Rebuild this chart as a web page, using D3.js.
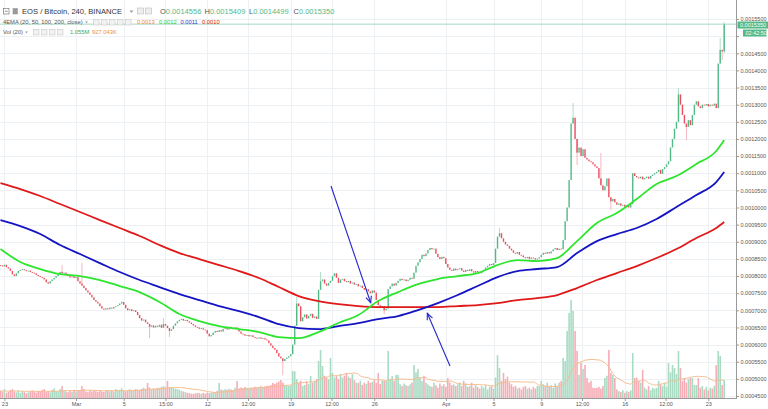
<!DOCTYPE html>
<html><head><meta charset="utf-8">
<script src="https://cdn.jsdelivr.net/npm/d3@7"></script>
<style>html,body{margin:0;padding:0;background:#fff;overflow:hidden}text{font-family:"Liberation Sans",Arial,sans-serif}</style>
</head><body><svg id="c" width="768" height="409"></svg>
<script>
// ---------- DATA (prices in µBTC = 1e-6 BTC, volume in K) ----------
const candleStart = "2018-02-22T16:00:00Z";
const candleHours = 4;
const firstOpen = 832;
const closes = [
831,828,833,826,822,815,805,800,808,815,
818,820,817,814,816,812,810,808,803,800,
797,795,790,782,778,785,790,795,800,806,
812,808,810,805,800,796,799,794,797,785,
778,772,765,758,752,745,738,730,725,720,
712,705,702,706,703,708,705,710,712,715,
720,724,716,706,700,703,698,700,695,686,
677,670,673,665,660,652,656,650,655,652,
658,649,660,655,648,640,645,655,662,668,
672,675,670,672,668,664,660,656,652,650,
646,648,644,642,632,624,628,635,640,637,
642,638,646,650,644,652,648,645,650,646,
638,632,630,626,628,624,627,622,620,618,
621,617,619,615,612,604,597,590,585,575,
565,560,552,558,562,566,572,600,655,720,
712,668,680,688,676,684,690,678,682,675,
760,785,790,778,772,780,786,800,808,795,
780,790,792,785,782,786,778,781,775,777,
770,772,765,760,762,755,750,758,752,730,
715,708,712,700,705,762,770,778,772,780,
786,792,788,790,785,789,795,792,810,830,
840,850,862,858,866,876,882,878,880,865,
855,850,856,852,835,825,818,815,822,817,
820,823,816,812,818,815,820,814,810,815,
812,808,815,818,825,830,835,832,838,880,
915,925,910,900,892,888,880,875,868,865,
870,862,860,855,852,856,850,854,852,848,
851,855,862,868,865,870,866,872,878,882,
876,880,878,905,960,1000,1080,1245,1262,1200,
1160,1175,1150,1170,1145,1140,1135,1132,1126,1120,
1115,1085,1065,1050,1062,1085,1030,1018,1025,1015,
1008,1012,1005,1008,1002,1006,1000,1010,1100,1092,
1088,1085,1090,1082,1086,1090,1084,1092,1096,1100,
1104,1110,1098,1112,1118,1126,1135,1175,1200,1230,
1250,1330,1300,1270,1245,1235,1255,1240,1270,1300,
1310,1295,1290,1300,1298,1302,1295,1300,1297,1303,
1290,1420,1460,1455.6,1535
];
// notable wicks: [candle index, high, low]
const wicks = [
[31,832,null],[41,838,null],[61,727,null],[75,null,619],[82,678,null],[85,null,622],
[142,null,510],[149,739,null],[161,812,null],[193,null,689],[251,940,null],
[288,1305,null],[290,null,1124],[302,1159,null],[307,null,993],[341,1349,null],
[345,null,1197],[362,1495,null],[363,null,1430],[364,1540.9,1449.9]
];
const volumesK = [
420,380,510,300,350,460,520,390,330,450,
300,410,360,280,330,390,450,370,310,420,
380,460,520,350,400,330,470,560,410,380,
520,700,450,380,340,410,360,480,390,440,
430,700,520,380,340,420,380,450,400,360,
410,380,350,470,420,390,440,380,520,460,
480,560,420,390,450,510,470,430,520,480,
460,530,600,540,880,620,480,560,520,600,
580,640,700,620,1000,640,620,580,540,520,
480,420,380,350,300,280,260,240,270,300,
280,250,300,260,320,280,300,350,330,420,
880,500,460,520,480,540,500,460,600,990,
560,620,580,640,600,560,620,580,660,600,
640,700,620,680,720,700,760,880,820,900,
960,1050,900,760,700,700,720,1580,1560,1100,
880,1000,700,760,980,820,1290,900,1000,1100,
2160,2810,1870,1300,1200,1100,2340,1460,1200,1300,
1100,1400,1200,1300,1460,1250,1170,1400,1050,900,
880,1000,760,900,820,1000,880,940,1050,880,
1460,820,1000,1000,1000,2750,1100,1280,1000,1350,
1350,800,700,850,750,700,800,900,1930,1500,
1700,1200,1000,1300,900,800,700,650,900,750,
600,850,700,800,650,1170,900,750,800,700,
800,900,700,1000,850,650,700,900,600,750,
650,550,700,600,750,500,650,700,550,1200,
2500,1750,1000,1460,1100,1250,900,800,650,700,
550,600,500,650,700,550,600,500,650,550,
700,700,1000,800,700,900,650,750,600,850,
700,900,1000,2340,2160,3920,4970,5730,5090,3920,
2750,1350,2050,1700,1930,1170,900,1000,600,580,
600,650,550,700,1170,1300,2810,1460,1350,1170,
500,400,350,450,300,400,350,450,2630,1170,
1200,1000,900,1640,600,500,700,450,600,550,
600,1000,800,700,900,650,2050,1500,1930,1750,
1400,2750,1750,1000,1170,900,1100,1170,1170,760,
760,1170,600,700,500,650,450,600,550,700,
1930,2750,2460,760,1055
];
// EMA lines at these candle indices
const emaIdx = [0,10,20,30,40,50,60,70,80,90,100,110,120,130,140,150,160,170,180,190,200,210,220,230,240,250,260,270,280,290,300,310,320,330,340,350,360,364];
const ema50 = [878.8,840.9,820.5,805.9,800.0,788.4,770.9,753.3,724.2,689.1,668.7,654.1,645.4,636.6,622.0,619.1,636.6,662.9,686.2,727.1,753.3,776.7,791.3,800.0,808.8,832.1,846.7,843.8,852.6,902.0,954.7,983.9,1024.7,1068.5,1091.8,1126.9,1164.8,1196.9];
const ema100 = [963.4,945.9,922.6,890.5,864.2,837.9,811.7,788.4,767.9,747.5,730.0,712.5,697.9,680.4,659.6,648.3,645.4,654.1,662.9,674.6,683.3,700.8,721.2,744.6,770.9,797.1,814.6,820.5,826.3,867.1,902.0,922.6,940.1,966.4,1001.4,1036.4,1074.3,1103.5];
const ema200 = [1071.4,1053.9,1033.5,1010.1,986.8,963.4,940.1,916.8,890.5,867.1,849.6,832.1,814.6,794.2,767.9,741.7,727.1,718.3,712.5,709.6,709.6,709.6,709.6,712.5,715.4,721.2,730.0,735.8,744.6,765.0,788.4,808.8,829.2,852.6,878.8,910.9,940.1,957.6];
const priceTicks = [450,500,550,600,650,700,750,800,850,900,950,1000,1050,1100,1150,1200,1250,1300,1350,1400,1450,1500,1550];
const xTickDates = ["2018-02-23T00:00Z","2018-03-01T00:00Z","2018-03-05T00:00Z","2018-03-08T12:00Z","2018-03-12T00:00Z","2018-03-15T10:00Z","2018-03-19T00:00Z","2018-03-22T10:00Z","2018-03-26T00:00Z","2018-04-01T00:00Z","2018-04-05T00:00Z","2018-04-09T00:00Z","2018-04-12T10:00Z","2018-04-16T00:00Z","2018-04-19T10:00Z","2018-04-23T00:00Z"];
const xTickLabels = ["23","Mar","5","15:00","12","12:00","19","12:00","26","Apr","5","9","12:00","16","12:00","23"];
const emaLegend = ["0.0013","0.0012","0.0011","0.0010"];
const volLegend = ["1.055M","927.043K"];
const countdown = "02:42:50";
const arrows = [
  {from:["2018-03-22T09:00Z",1062.6], to:["2018-03-25T16:50Z",722.1]},
  {from:["2018-04-01T08:24Z",537.4], to:["2018-03-30T10:48Z",691.2]}
];

// ---------- CHART ----------
const plotR = 736, plotB = 398;
const svg = d3.select("#c");
const UP = "#53b987", DN = "#eb4d5c";
const t0 = Date.parse(candleStart);
const tOf = i => new Date(t0 + i * candleHours * 3600e3);
const fmtP = v => (v / 1e6).toFixed(7);

const x = d3.scaleUtc().domain([new Date("2018-02-22T15:06:00Z"), new Date("2018-04-25T07:45:00Z")]).range([0, plotR]);
const y = d3.scaleLinear().domain([450, 1550]).range([396, 19]);
const yv = d3.scaleLinear().domain([0, 10000]).range([plotB, 227]);

svg.append("defs").append("clipPath").attr("id","plot").append("rect").attr("x",0).attr("y",0).attr("width",plotR).attr("height",plotB);

// grid
const grid = svg.append("g").attr("shape-rendering","crispEdges");
grid.selectAll("line.h").data(priceTicks).join("line")
  .attr("x1",0).attr("x2",plotR).attr("y1",d=>Math.round(y(d))+0.5).attr("y2",d=>Math.round(y(d))+0.5)
  .attr("stroke","#eef1f4");
grid.selectAll("line.v").data(xTickDates).join("line")
  .attr("y1",0).attr("y2",plotB).attr("x1",d=>Math.round(x(new Date(d)))+0.5).attr("x2",d=>Math.round(x(new Date(d)))+0.5)
  .attr("stroke","#eef1f4");

const plot = svg.append("g").attr("clip-path","url(#plot)");

// candle data
const wickMap = new Map(wicks.map(w => [w[0], w]));
const candles = closes.map((c, i) => {
  const o = i === 0 ? firstOpen : closes[i-1];
  const w = wickMap.get(i);
  let hi = Math.max(o, c), lo = Math.min(o, c);
  if (w) { if (w[1] != null) hi = w[1]; if (w[2] != null) lo = w[2]; }
  return {i, t: tOf(i), o, c, hi, lo, v: volumesK[i], up: c >= o};
});

// volume
plot.append("g").selectAll("rect").data(candles).join("rect")
  .attr("x", d => x(d.t) - 0.8).attr("width", 1.6)
  .attr("y", d => yv(d.v)).attr("height", d => plotB - yv(d.v))
  .attr("fill", d => d.up ? "#a9dbc3" : "#f6adb6");

// volume MA 20
const volMA = candles.map((d, i) => {
  const s = volumesK.slice(Math.max(0, i - 19), i + 1);
  return {t: d.t, v: d3.mean(s)};
});
plot.append("path").datum(volMA)
  .attr("d", d3.line().x(d => x(d.t)).y(d => yv(d.v)).curve(d3.curveMonotoneX))
  .attr("fill","none").attr("stroke","#f5bd8e").attr("stroke-width",1);

// candles
const cg = plot.append("g");
cg.selectAll("line").data(candles.filter(d => d.hi > Math.max(d.o,d.c) || d.lo < Math.min(d.o,d.c))).join("line")
  .attr("x1", d => x(d.t)).attr("x2", d => x(d.t))
  .attr("y1", d => y(d.hi)).attr("y2", d => y(d.lo))
  .attr("stroke", d => d.up ? "#9fd6bb" : "#f2a3ad").attr("stroke-width", 0.8);
cg.selectAll("rect").data(candles).join("rect")
  .attr("x", d => x(d.t) - 0.7).attr("width", 1.4)
  .attr("y", d => y(Math.max(d.o, d.c)))
  .attr("height", d => Math.max(0.9, y(Math.min(d.o, d.c)) - y(Math.max(d.o, d.c))))
  .attr("fill", d => d.up ? UP : DN);

// EMA lines
const emaLine = vals => emaIdx.map((k, j) => ({t: tOf(k), v: vals[j]}));
const lineGen = d3.line().x(d => x(d.t)).y(d => y(d.v)).curve(d3.curveMonotoneX);
[[ema200,"#e01818"],[ema100,"#1414c4"],[ema50,"#2ee52e"]].forEach(([vals, col]) => {
  plot.append("path").datum(emaLine(vals)).attr("d", lineGen)
    .attr("fill","none").attr("stroke",col).attr("stroke-width",1.8).attr("stroke-linejoin","round");
});

// last price line
const last = candles[candles.length - 1];
const ly = y(last.c);
svg.append("line").attr("x1",0).attr("x2",plotR).attr("y1",ly).attr("y2",ly)
  .attr("stroke","#8fd1b1").attr("stroke-width",0.8);

// arrows
const ag = svg.append("g").attr("stroke","#2626d0").attr("stroke-width",1.1).attr("fill","none");
arrows.forEach(a => {
  const x1 = x(new Date(a.from[0])), y1 = y(a.from[1]);
  const x2 = x(new Date(a.to[0])), y2 = y(a.to[1]);
  ag.append("line").attr("x1",x1).attr("y1",y1).attr("x2",x2).attr("y2",y2);
  const ang = Math.atan2(y2 - y1, x2 - x1), L = 7, sp = 0.42;
  const p = [[x2 - L*Math.cos(ang - sp), y2 - L*Math.sin(ang - sp)],[x2,y2],[x2 - L*Math.cos(ang + sp), y2 - L*Math.sin(ang + sp)]];
  ag.append("path").attr("d", d3.line()(p));
});

// axes
svg.append("line").attr("x1",plotR+0.5).attr("x2",plotR+0.5).attr("y1",0).attr("y2",plotB+0.5).attr("stroke","#999").attr("shape-rendering","crispEdges");
svg.append("line").attr("x1",0).attr("x2",plotR+0.5).attr("y1",plotB+0.5).attr("y2",plotB+0.5).attr("stroke","#999").attr("shape-rendering","crispEdges");

// label boxes area (price labels hidden behind them, as in the reference)
const box1 = [ly - 2.6, ly + 4.4], box2 = [ly + 5.4, ly + 12.4];

const yAxis = svg.append("g").attr("transform",`translate(${plotR+0.5},0)`)
  .call(d3.axisRight(y).tickValues(priceTicks).tickSize(2.5).tickPadding(1.5).tickFormat(fmtP));
yAxis.select(".domain").remove();
yAxis.selectAll("line").attr("stroke","#999");
yAxis.selectAll("text").attr("font-size",5.5).attr("fill","#555").attr("font-family","Liberation Sans, Arial");
yAxis.selectAll(".tick").filter(d => y(d) + 2.2 > box1[0] && y(d) - 2.2 < box2[1]).select("text").remove();

const xAxis = svg.append("g").attr("transform",`translate(0,${plotB+0.5})`)
  .call(d3.axisBottom(x).tickValues(xTickDates.map(d => new Date(d))).tickSize(2.5).tickPadding(1.5).tickFormat((d,i) => xTickLabels[i]));
xAxis.select(".domain").remove();
xAxis.selectAll("line").attr("stroke","#999");
xAxis.selectAll("text").attr("font-size",5.5).attr("fill","#555").attr("font-family","Liberation Sans, Arial");

// last price label + countdown
svg.append("rect").attr("x",737.5).attr("y",box1[0]).attr("width",30.5).attr("height",box1[1]-box1[0]).attr("fill",UP);
svg.append("text").attr("x",740).attr("y",ly+3).attr("font-size",5.5).attr("fill","#fff").text(fmtP(last.c));
svg.append("rect").attr("x",743).attr("y",box2[0]).attr("width",23.5).attr("height",box2[1]-box2[0]).attr("fill",UP);
svg.append("text").attr("x",745.5).attr("y",ly+10.9).attr("font-size",5.5).attr("fill","#fff").text(countdown);

// ---------- HEADER LEGEND ----------
const hd = svg.append("g");
function box(xx, yy, w, h, fill, stroke){ hd.append("rect").attr("x",xx).attr("y",yy).attr("width",w).attr("height",h).attr("fill",fill).attr("stroke",stroke).attr("stroke-width",0.6); }
// row 1
box(3.5,8.5,5.5,5.5,"#fff","#666");
hd.append("line").attr("x1",4.8).attr("x2",7.7).attr("y1",11.25).attr("y2",11.25).attr("stroke","#666").attr("stroke-width",0.7);
box(13,8.5,4.5,5.5,"#999","#999");
hd.append("text").attr("x",22).attr("y",14.4).attr("font-size",7.6).attr("fill","#333").text("EOS / Bitcoin, 240, BINANCE");
hd.append("path").attr("d","M129.5,10.5 L133.5,10.5 L131.5,12.8 Z").attr("fill","#999");
box(137.5,8,6,6,"#eee","#bbb"); box(145.5,8,6,6,"#eee","#bbb");
[["O",last.o,160],["H",last.hi,204.5],["L",last.lo,249],["C",last.c,293.5]].forEach(([k, v, xx]) => {
  const t = hd.append("text").attr("x",xx).attr("y",14.4).attr("font-size",7.5);
  t.append("tspan").attr("fill","#555").text(k);
  t.append("tspan").attr("fill",UP).text(fmtP(v));
});
// row 2
hd.append("text").attr("x",3).attr("y",24.2).attr("font-size",5.8).attr("fill","#555").text("4EMA (20, 50, 100, 200, close)");
hd.append("path").attr("d","M85,21.5 L88,21.5 L86.5,23.2 Z").attr("fill","#999");
[93,101,109,117,125].forEach(xx => box(xx+0.5,19.5,5.5,5.5,"#f2f2f2","#c8c8c8"));
const emaCols = ["#f08c1a","#2fcc2f","#3333cc","#d42020"];
[137,159,180.5,202].forEach((xx, j) => hd.append("text").attr("x",xx).attr("y",24.2).attr("font-size",5.8).attr("fill",emaCols[j]).text(emaLegend[j]));
// row 3
hd.append("text").attr("x",3).attr("y",34.2).attr("font-size",5.8).attr("fill","#555").text("Vol (20)");
hd.append("path").attr("d","M25,31.5 L28,31.5 L26.5,33.2 Z").attr("fill","#999");
[33,41,49,57].forEach(xx => box(xx+0.5,29.5,5.5,5.5,"#f2f2f2","#c8c8c8"));
hd.append("text").attr("x",70).attr("y",34.2).attr("font-size",5.8).attr("fill","#3aa86f").text(volLegend[0]);
hd.append("text").attr("x",92).attr("y",34.2).attr("font-size",5.8).attr("fill","#e8913a").text(volLegend[1]);
</script>
</body></html>
